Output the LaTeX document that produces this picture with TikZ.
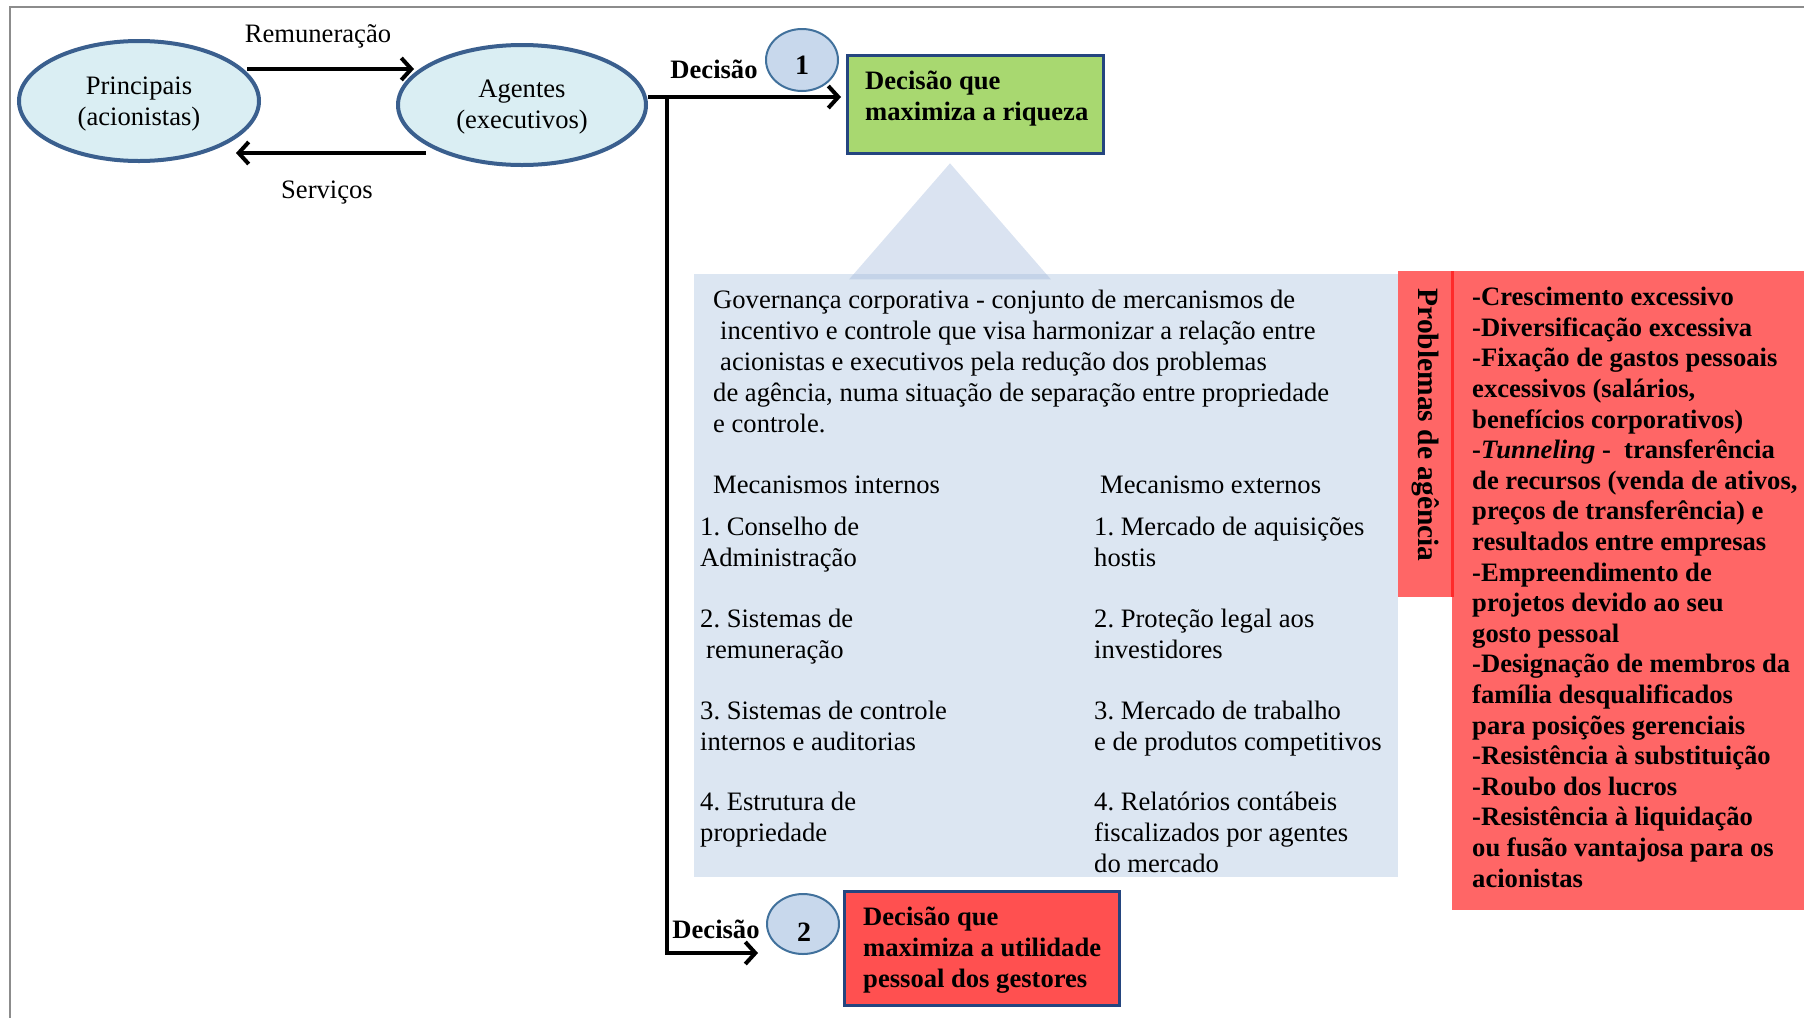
\documentclass[tikz,border=0pt]{standalone}
\usepackage{fontspec}
\setmainfont{Liberation Serif}
\usetikzlibrary{arrows.meta,shapes.geometric,calc}
\frenchspacing

\definecolor{ellfill}{HTML}{DAEEF3}
\definecolor{elldraw}{HTML}{3A5F8E}
\definecolor{numfill}{HTML}{C8D8EC}
\definecolor{numdraw}{HTML}{41719C}
\definecolor{greenfill}{HTML}{A8D870}
\definecolor{boxdraw}{HTML}{24457F}
\definecolor{govfill}{HTML}{DCE6F2}
\definecolor{trifill}{HTML}{9BB3D9}
\definecolor{probfill}{HTML}{FF6666}
\definecolor{probline}{HTML}{FF2A2A}
\definecolor{badfill}{HTML}{FF5050}
\definecolor{framegray}{HTML}{8C8C8C}

\tikzset{
  party/.style={ellipse, draw=elldraw, line width=4pt, fill=ellfill,
    inner sep=0pt, align=center, font=\fontsize{26}{31}\selectfont},
  numbubble/.style={ellipse, draw=numdraw, line width=2pt, fill=numfill,
    inner sep=0pt, font=\bfseries\fontsize{28}{30}\selectfont},
  flow/.style={line width=4pt, draw=black},
  flowarrow/.style={flow, -{Straight Barb[length=10pt,width=22pt,line width=4pt]}},
  plain/.style={inner sep=0pt, align=left, font=\fontsize{26.6}{31}\selectfont},
  boldtext/.style={inner sep=0pt, align=left, font=\bfseries\fontsize{26.6}{30.6}\selectfont},
  outcome/.style={draw=boxdraw, line width=2.5pt},
  label/.style={inner sep=0pt, font=\fontsize{26.6}{31}\selectfont},
}

\begin{document}
\begin{tikzpicture}[x=1pt, y=-1pt]
  \useasboundingbox (0,0) rectangle (1804,1018);

  % page frame (top and left edges)
  \draw[framegray, line width=2pt] (1804,7) -- (10,7) -- (10,1018);

  % principal / agent
  \node[party, minimum width=240pt, minimum height=120pt] (P) at (139,101) {};
  \node[label, align=center] (Ptxt) at (139,104) {Principais\\(acionistas)};
  \node[party, minimum width=248pt, minimum height=120pt] (A) at (522,105) {};
  \node[label, align=center] (Atxt) at (522,107) {Agentes\\(executivos)};

  \draw[flowarrow] ($(P.center)+(108,-32)$) -- ($(A.center)+(-108,-36)$);
  \node[label, anchor=base] (lrem) at (318,42) {Remuneração};
  \draw[flowarrow] ($(A.center)+(-96,48)$) -- ($(P.center)+(97,52)$);
  \node[label, anchor=base] (lserv) at (327,198) {Serviços};

  % governance panel with its pointer
  \fill[govfill] (694,274) rectangle (1398,877);
  \node[fill=trifill, fill opacity=0.37, isosceles triangle, isosceles triangle apex angle=82,
    shape border rotate=90, minimum height=116pt, inner sep=0pt, anchor=apex] (tri) at (950,163) {};

  % decision boxes
  \node[outcome, fill=greenfill, minimum width=256pt, minimum height=98pt, anchor=north west] (G) at (846,54) {};
  \node[boldtext, anchor=base west] (gtxt) at (865,120) {Decisão que\\maximiza a riqueza};

  \node[outcome, fill=badfill, minimum width=275pt, minimum height=114pt, anchor=north west] (R) at (843,890) {};
  \node[boldtext, font=\bfseries\fontsize{26.6}{31}\selectfont, anchor=base west] (rtxt) at (863,987)
    {Decisão que\\maximiza a utilidade\\pessoal dos gestores};

  \node[numbubble, minimum width=72pt, minimum height=62pt] (n1) at (802,60) {};
  \node[font=\bfseries\fontsize{28}{30}\selectfont, anchor=base] (n1txt) at (802,74) {1};
  \node[numbubble, minimum width=72pt, minimum height=60pt] (n2) at (803,924) {};
  \node[font=\bfseries\fontsize{28}{30}\selectfont, anchor=base] (n2txt) at (804,941) {2};

  % decision paths
  \coordinate (split) at (667,97);
  \coordinate (bend) at (667,953);
  \coordinate (tip2) at (758,953);
  \draw[flowarrow, shorten >=5pt] ([yshift=8pt]A.east) -- (G.west |- split);
  \draw[flowarrow] (split) -- (bend) -- (tip2);
  \node[font=\bfseries\fontsize{26.6}{31}\selectfont, anchor=base] (d1) at (714,78) {Decisão};
  \node[font=\bfseries\fontsize{26.6}{31}\selectfont, anchor=base] (d2) at (716,938) {Decisão};

  % governance text
  \node[plain, anchor=base west] (gov) at (713,432)
    {Governança corporativa - conjunto de mercanismos de\\
     \hspace*{7pt}incentivo e controle que visa harmonizar a relação entre\\
     \hspace*{7pt}acionistas e executivos pela redução dos problemas\\
     de agência, numa situação de separação entre propriedade\\
     e controle.};

  \node[plain, anchor=base west] (mint) at (713,493) {Mecanismos internos};
  \node[plain, anchor=base west] (mext) at (1100,493) {Mecanismo externos};

  \node[plain, anchor=base west] (i1) at (700,566) {1. Conselho de\\Administração};
  \node[plain, anchor=base west] (i2) at (700,658) {2. Sistemas de\\\hspace*{6pt}remuneração};
  \node[plain, anchor=base west] (i3) at (700,750) {3. Sistemas de controle\\internos e auditorias};
  \node[plain, anchor=base west] (i4) at (700,841) {4. Estrutura de\\propriedade};

  \node[plain, anchor=base west] (e1) at (1094,566) {1. Mercado de aquisições\\hostis};
  \node[plain, anchor=base west] (e2) at (1094,658) {2. Proteção legal aos\\investidores};
  \node[plain, anchor=base west] (e3) at (1094,750) {3. Mercado de trabalho\\e de produtos competitivos};
  \node[plain, anchor=base west] (e4) at (1094,872) {4. Relatórios contábeis\\fiscalizados por agentes\\do mercado};

  % agency problems
  \fill[probfill] (1398,271) rectangle (1452,597);
  \fill[probfill] (1452,271) rectangle (1804,910);
  \draw[probline, line width=3pt] (1452,271) -- (1452,597);
  \node[rotate=-90, font=\bfseries\fontsize{29.5}{30}\selectfont] (ptitle) at (1426,425) {Problemas de agência};

  \node[boldtext, anchor=base west] (plist) at (1472,887)
    {-Crescimento excessivo\\
     -Diversificação excessiva\\
     -Fixação de gastos pessoais\\
     excessivos (salários,\\
     benefícios corporativos)\\
     -\textit{Tunneling} -\ \ transferência\\
     de recursos (venda de ativos,\\
     preços de transferência) e\\
     resultados entre empresas\\
     -Empreendimento de\\
     projetos devido ao seu\\
     gosto pessoal\\
     -Designação de membros da\\
     família desqualificados\\
     para posições gerenciais\\
     -Resistência à substituição\\
     -Roubo dos lucros\\
     -Resistência à liquidação\\
     ou fusão vantajosa para os\\
     acionistas};
\end{tikzpicture}
\end{document}
